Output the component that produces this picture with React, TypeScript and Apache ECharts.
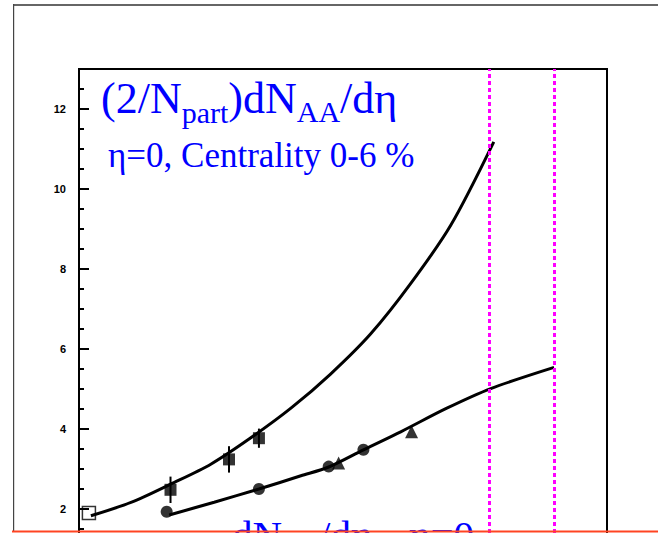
import React, { useEffect, useRef } from 'react';
import * as echarts from 'echarts';

// Central Au+Au / Pb+Pb points (sqrt(s_NN) in GeV, (2/Npart) dN/deta)
const spsEnergy = [17.3];
const spsValue = [1.9];
const rhicEnergy = [56, 130, 200];
const rhicValue = [2.48, 3.24, 3.77];
const rhicError = [0.33, 0.33, 0.24];

// p+p(bar) points at eta = 0
const ppEnergy = [53, 200, 546, 900];
const ppValue = [1.93, 2.5, 3.06, 3.48];
const cdfEnergy = [630, 1800];
const cdfValue = [3.15, 3.93];

// Fitted curves
const aaFitEnergy = [17.8, 32, 56, 100, 178, 317, 563, 1000, 1780, 3170, 5880];
const aaFitValue = [1.83, 2.17, 2.62, 3.12, 3.78, 4.52, 5.38, 6.38, 7.64, 9.1, 11.18];
const ppFitEnergy = [55, 105, 200, 366, 546, 900, 1540, 2990, 5630, 14000];
const ppFitValue = [1.85, 2.17, 2.5, 2.83, 3.05, 3.48, 3.93, 4.52, 5.01, 5.54];

// LHC energies (GeV)
const lhcEnergy = [5500, 14000];

const SERIF = '"Liberation Serif", "Times New Roman", serif';
const SANS = '"Liberation Sans", Arial, Helvetica, sans-serif';
const BLUE = '#0000ff';

let measureCtx: CanvasRenderingContext2D | null = null;
function metrics(text: string, size: number) {
  if (!measureCtx) measureCtx = document.createElement('canvas').getContext('2d');
  const ctx = measureCtx as CanvasRenderingContext2D;
  ctx.font = `${size}px ${SERIF}`;
  const m = ctx.measureText(text);
  const asc = (m as any).fontBoundingBoxAscent ?? size * 0.891;
  const desc = (m as any).fontBoundingBoxDescent ?? size * 0.216;
  return { width: m.width, central: (asc - desc) / 2 };
}

type Run = { text: string; size: number; dy?: number; at?: number };

// Lays out a line of text runs (with subscripts) on a common baseline.
function textLine(runs: Run[], x0: number, baseline: number, color: string, scaleX = 1) {
  let cx = 0;
  const children = runs.map((r) => {
    if (r.at !== undefined) cx = (r.at - x0) / scaleX;
    const m = metrics(r.text, r.size);
    const el = {
      type: 'text',
      x: cx,
      y: (r.dy ?? 0) - m.central,
      style: {
        text: r.text,
        font: `${r.size}px ${SERIF}`,
        fill: color,
        align: 'left',
        verticalAlign: 'middle',
      },
    };
    cx += m.width;
    return el;
  });
  return { type: 'group', x: x0, y: baseline, scaleX, children };
}

export default function App() {
  const ref = useRef<HTMLDivElement>(null);

  useEffect(() => {
    if (!ref.current) return;
    const chart = echarts.init(ref.current, undefined, { renderer: 'svg' });

    const zip = (xs: number[], ys: number[]) => xs.map((x, i) => [x, ys[i]]);

    const option = {
      animation: false,
      backgroundColor: '#ffffff',
      grid: {
        left: 79,
        top: 69,
        width: 528,
        height: 520,
        show: true,
        borderColor: '#000',
        borderWidth: 2,
        backgroundColor: 'transparent',
        containLabel: false,
        outerBoundsMode: 'none',
      },
      xAxis: {
        type: 'log',
        logBase: 10,
        min: 15,
        max: 30000,
        axisLine: { show: true, lineStyle: { color: '#000', width: 2 } },
        axisTick: { show: false },
        axisLabel: { show: false },
        splitLine: { show: false },
      },
      yAxis: [
        {
          type: 'value',
          min: 0,
          max: 13,
          interval: 2,
          axisLine: { show: true, lineStyle: { color: '#000', width: 2 } },
          axisTick: { show: true, inside: true, length: 10, lineStyle: { color: '#000', width: 2 } },
          axisLabel: {
            margin: 13,
            fontFamily: SANS,
            fontWeight: 'bold',
            fontSize: 11,
            color: '#000',
            formatter: (v: number) => (v % 2 === 0 ? String(v) : ''),
          },
          splitLine: { show: false },
        },
        {
          type: 'value',
          min: 0,
          max: 13,
          interval: 0.5,
          position: 'left',
          axisLine: { show: false },
          axisTick: { show: true, inside: true, length: 5, lineStyle: { color: '#000', width: 2 } },
          axisLabel: { show: false },
          splitLine: { show: false },
        },
      ],
      series: [
        {
          type: 'line',
          data: zip(aaFitEnergy, aaFitValue),
          smooth: 0.3,
          showSymbol: false,
          lineStyle: { color: '#000', width: 3 },
          z: 2,
        },
        {
          type: 'line',
          data: zip(ppFitEnergy, ppFitValue),
          smooth: 0.3,
          showSymbol: false,
          lineStyle: { color: '#000', width: 3 },
          z: 2,
        },
        {
          type: 'custom',
          data: rhicEnergy.map((e, i) => [e, rhicValue[i] - rhicError[i], rhicValue[i] + rhicError[i]]),
          encode: { x: 0, y: [1, 2] },
          renderItem: (_params: any, api: any) => {
            const lo = api.coord([api.value(0), api.value(1)]);
            const hi = api.coord([api.value(0), api.value(2)]);
            return {
              type: 'line',
              shape: { x1: lo[0], y1: lo[1], x2: hi[0], y2: hi[1] },
              style: { stroke: '#000', lineWidth: 2 },
            };
          },
          z: 3,
        },
        {
          type: 'scatter',
          data: zip(spsEnergy, spsValue),
          symbol: 'rect',
          symbolSize: 13,
          itemStyle: { color: 'rgba(0,0,0,0)', borderColor: '#000', borderWidth: 1.5 },
          z: 4,
        },
        {
          type: 'scatter',
          data: zip(rhicEnergy, rhicValue),
          symbol: 'rect',
          symbolSize: 12,
          itemStyle: { color: '#000' },
          z: 4,
        },
        {
          type: 'scatter',
          data: zip(ppEnergy, ppValue),
          symbol: 'circle',
          symbolSize: 12,
          itemStyle: { color: '#000' },
          z: 4,
        },
        {
          type: 'scatter',
          data: zip(cdfEnergy, cdfValue),
          symbol: 'triangle',
          symbolSize: 13,
          itemStyle: { color: '#000' },
          z: 4,
        },
        {
          type: 'line',
          data: [],
          z: 10,
          markLine: {
            silent: true,
            symbol: 'none',
            label: { show: false },
            lineStyle: { color: '#ff00ff', width: 3, type: [4, 3] },
            data: lhcEnergy.map((e) => ({ xAxis: e })),
          },
        },
      ],
      graphic: [
        { type: 'rect', shape: { x: 13, y: 4, width: 645, height: 2 }, style: { fill: '#666' }, silent: true },
        { type: 'rect', shape: { x: 13, y: 4, width: 1.2, height: 527 }, style: { fill: '#444' }, silent: true },
        { type: 'rect', shape: { x: 12, y: 530.5, width: 646, height: 2 }, style: { fill: '#ff4422' }, silent: true, z: 100 },
        textLine(
          [
            { text: '(2/N', size: 44 },
            { text: 'part', size: 30, dy: 10 },
            { text: ')dN', size: 44 },
            { text: 'AA', size: 30, dy: 9 },
            { text: '/dη', size: 44 },
          ],
          101,
          113,
          BLUE,
        ),
        textLine([{ text: 'η=0, Centrality 0-6 %', size: 35 }], 108, 167, BLUE),
        textLine(
          [
            { text: 'dN', size: 41, at: 232 },
            { text: 'pp', size: 28, dy: 10 },
            { text: '/dη', size: 41, at: 319 },
            { text: ',', size: 41 },
            { text: 'η=0', size: 41, at: 409 },
          ],
          232,
          549,
          BLUE,
        ),
      ],
    };

    chart.setOption(option as any);
    return () => chart.dispose();
  }, []);

  return (
    <div
      style={{
        position: 'fixed',
        left: 0,
        top: 0,
        width: 658,
        height: 533,
        overflow: 'hidden',
        background: '#fff',
      }}
    >
      <div ref={ref} style={{ width: 658, height: 640 }} />
    </div>
  );
}
